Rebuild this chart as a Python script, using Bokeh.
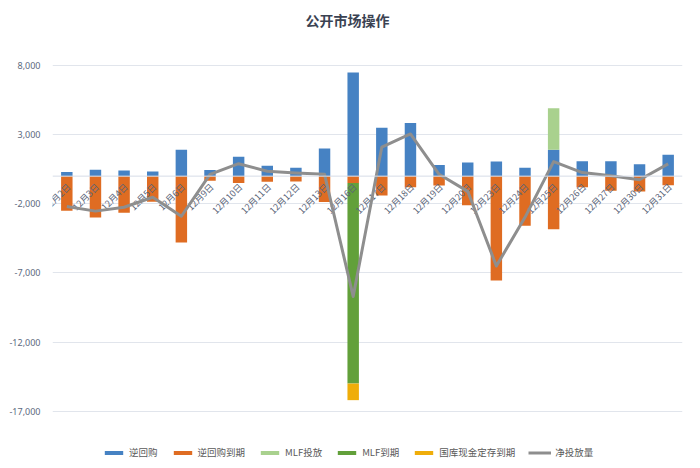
import math
from bokeh.plotting import figure
from bokeh.models import (Range1d, NumeralTickFormatter, Span, Legend, LegendItem,
                          ColumnDataSource, Label)
from bokeh.core.properties import value
from bokeh.embed import file_html
from bokeh.resources import INLINE

# ---------------- data ----------------
dates = ["12月2日", "12月3日", "12月4日", "12月5日", "12月6日", "12月9日", "12月10日",
         "12月11日", "12月12日", "12月13日", "12月16日", "12月17日", "12月18日", "12月19日",
         "12月20日", "12月23日", "12月24日", "12月25日", "12月26日", "12月27日", "12月30日",
         "12月31日"]
reverse_repo = [300, 470, 400, 330, 1900, 450, 1400, 750, 600, 2000, 7500, 3500, 3850, 800,
                980, 1050, 600, 1900, 1070, 1070, 850, 1550]
mlf_injection = [0, 0, 0, 0, 0, 0, 0, 0, 0, 0, 0, 0, 0, 0, 0, 0, 0, 3000, 0, 0, 0, 0]
reverse_repo_maturity = [-2500, -3000, -2650, -1860, -4800, -330, -500, -400, -380, -1870, -500,
                         -1400, -800, -670, -2100, -7550, -3580, -3850, -810, -1050, -1110, -660]
mlf_maturity = [0, 0, 0, 0, 0, 0, 0, 0, 0, 0, -14500, 0, 0, 0, 0, 0, 0, 0, 0, 0, 0, 0]
treasury_deposit_maturity = [0, 0, 0, 0, 0, 0, 0, 0, 0, 0, -1200, 0, 0, 0, 0, 0, 0, 0, 0, 0, 0, 0]
net_injection = [-2200, -2530, -2250, -1530, -2900, 120, 900, 350, 220, 130, -8700, 2100, 3050,
                 130, -1100, -6500, -2980, 1050, 260, 20, -260, 890]
y_ticks = [-17000, -12000, -7000, -2000, 3000, 8000]

title_text = "公开市场操作"
names = ["逆回购", "逆回购到期", "MLF投放", "MLF到期", "国库现金定存到期", "净投放量"]

# ---------------- styles ----------------
BLUE = "#4682c3"
ORANGE = "#df6c22"
LGREEN = "#a9d18e"
GREEN = "#62a03a"
GOLD = "#efad0a"
GRAY = "#8e8e8e"
CJK = "Noto Sans CJK SC"

src = ColumnDataSource(dict(date=dates, rr=reverse_repo, mlf=mlf_injection,
                            rrm=reverse_repo_maturity, mlfm=mlf_maturity,
                            gk=treasury_deposit_maturity, net=net_injection))

p = figure(x_range=dates, y_range=Range1d(-20564, 12700), width=684, height=460,
           output_backend="svg", toolbar_location=None, x_axis_location=None,
           min_border_left=52, min_border_right=2, min_border_top=0, min_border_bottom=0)
p.outline_line_color = None
p.background_fill_color = "white"
p.border_fill_color = "white"

for g in p.grid:
    if g.dimension == 0:
        g.visible = False

p.yaxis.ticker = y_ticks
p.yaxis.formatter = NumeralTickFormatter(format="0,0")
p.yaxis.axis_line_color = None
p.yaxis.major_tick_line_color = None
p.yaxis.minor_tick_line_color = None
p.yaxis.major_label_standoff = 6
p.yaxis.major_label_text_font_size = "9px"
p.yaxis.major_label_text_font = "Noto Sans"
p.yaxis.major_label_text_color = "#5d6a80"
p.ygrid.grid_line_color = "#e1e5ec"
p.ygrid.grid_line_width = 1

pos = p.vbar_stack(["rr", "mlf"], x="date", width=0.4, source=src,
                   fill_color=[BLUE, LGREEN], line_color=None)
neg = p.vbar_stack(["rrm", "mlfm", "gk"], x="date", width=0.4, source=src,
                   fill_color=[ORANGE, GREEN, GOLD], line_color=None)

zero = Span(location=0, dimension="width", line_color="#d6dce7", line_width=1, level="glyph")
p.add_layout(zero)

p.text(x="date", y=0, text="date", source=src, angle=math.pi / 4, x_offset=2, y_offset=9,
       text_align="right", text_baseline="middle", text_font_size="9px",
       text_color="#5a6478", text_font=value(CJK))

ln = p.line(x="date", y="net", source=src, line_color=GRAY, line_width=3, line_join="round")

p.add_layout(Label(x=10.3, y=11326, text=title_text, text_align="center",
                   text_baseline="middle", text_font_size="14px", text_font_style="bold",
                   text_color="#3a4252", text_font=CJK))

legend = Legend(items=[LegendItem(label=names[0], renderers=[pos[0]]),
                       LegendItem(label=names[1], renderers=[neg[0]]),
                       LegendItem(label=names[2], renderers=[pos[1]]),
                       LegendItem(label=names[3], renderers=[neg[1]]),
                       LegendItem(label=names[4], renderers=[neg[2]]),
                       LegendItem(label=names[5], renderers=[ln])],
                orientation="horizontal", location=(50, 1), glyph_width=23, glyph_height=5,
                label_text_font_size="9.5px", label_text_color="#595959", label_text_font=CJK,
                label_standoff=4, spacing=13, padding=3, margin=0, label_height=12,
                border_line_color=None, background_fill_alpha=0)
p.add_layout(legend)

open("out.html", "w").write(file_html(p, INLINE))
